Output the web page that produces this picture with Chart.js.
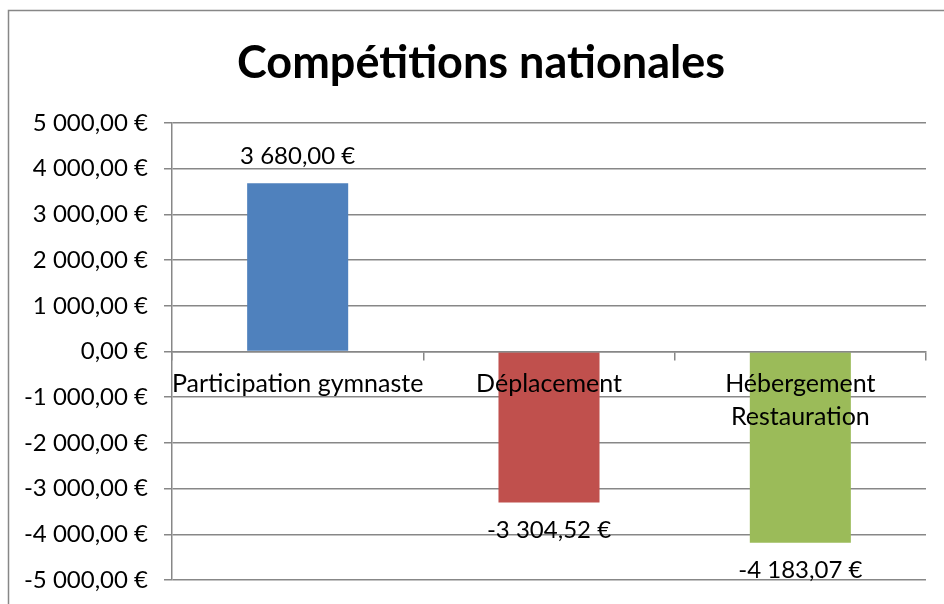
<!DOCTYPE html>
<html>
<head>
<meta charset="utf-8">
<script src="https://cdn.jsdelivr.net/npm/chart.js@4"></script>
<style>
  html, body { margin: 0; padding: 0; background: #fff; }
  #wrap { width: 944px; height: 604px; }
</style>
</head>
<body>
<div id="wrap"><canvas id="myChart" width="944" height="604"></canvas></div>
<script>
var title = "Compétitions nationales"
var categories = ["Participation gymnaste", "Déplacement", ["Hébergement", "Restauration"]]
var values = [3680.00, -3304.52, -4183.07]
var barColors = ["#4F81BD", "#C0504D", "#9BBB59"]
var yMin = -5000
var yMax = 5000
var yStep = 1000

var FONT = "Lato, 'Liberation Sans', sans-serif"
var GRID = "#878787"

// 3 680,00 €
function euro(v) {
  var neg = v < 0
  var s = Math.abs(v).toFixed(2).split(".")
  var int = s[0].replace(/\B(?=(\d{3})+(?!\d))/g, " ")
  return (neg ? "-" : "") + int + "," + s[1] + " €"
}

// etiquettes de valeur au bout des barres
var valueLabels = {
  id: "valueLabels",
  afterDraw: function(chart) {
    var ctx = chart.ctx
    var meta = chart.getDatasetMeta(0)
    ctx.save()
    ctx.font = "24px " + FONT
    ctx.fillStyle = "#000"
    ctx.textAlign = "center"
    ctx.textBaseline = "middle"
    meta.data.forEach(function(bar, i) {
      var v = values[i]
      var y = v >= 0 ? bar.y - 27 : bar.y + 28
      ctx.fillText(euro(v), bar.x, y)
    })
    ctx.restore()
  }
}

// cadre du graphique + titre decale comme dans Excel
var frame = {
  id: "frame",
  afterLayout: function(chart) {
    chart.titleBlock.left += 14
    chart.titleBlock.right += 14
  },
  beforeDraw: function(chart) {
    var ctx = chart.ctx
    ctx.save()
    ctx.fillStyle = "#fff"
    ctx.fillRect(0, 0, chart.width, chart.height)
    ctx.strokeStyle = GRID
    ctx.lineWidth = 1.5
    ctx.strokeRect(8.5, 10.5, chart.width + 20, chart.height + 20)
    ctx.restore()
  }
}

var ctx = document.getElementById("myChart")
var myChart = new Chart(ctx, {
  type: "bar",
  data: {
    labels: categories,
    datasets: [{
      data: values,
      backgroundColor: barColors,
      borderWidth: 0,
      categoryPercentage: 1,
      barPercentage: 0.402
    }]
  },
  options: {
    responsive: false,
    animation: false,
    layout: {
      padding: { top: 14, left: 8, right: 18, bottom: 24 }
    },
    plugins: {
      legend: { display: false },
      tooltip: { enabled: false },
      title: {
        display: true,
        text: title,
        color: "#000",
        font: { family: FONT, size: 45, weight: "bold", lineHeight: 1.2 },
        padding: { top: 22, bottom: 33 }
      }
    },
    scales: {
      x: {
        position: { y: 0 },
        afterFit: function(s) { s.height = 0 },
        grid: {
          display: true,
          drawOnChartArea: false,
          drawTicks: true,
          tickLength: 8,
          color: GRID,
          lineWidth: 1.5,
          z: 1
        },
        border: { display: true, color: GRID, width: 1.5, z: 1 },
        ticks: {
          z: 1,
          autoSkip: false,
          maxRotation: 0,
          minRotation: 0,
          padding: 8,
          color: "#000",
          font: { family: FONT, size: 25, lineHeight: 1.32 }
        }
      },
      y: {
        min: yMin,
        max: yMax,
        afterFit: function(s) {
          s.width = 164
          s.paddingTop = 14
          s.paddingBottom = 14
        },
        grid: {
          color: GRID,
          lineWidth: 1.5,
          tickLength: 8
        },
        border: { display: true, color: GRID, width: 1.5 },
        ticks: {
          stepSize: yStep,
          padding: 16,
          color: "#000",
          font: { family: FONT, size: 24 },
          callback: function(v) { return euro(v) }
        }
      }
    }
  },
  plugins: [frame, valueLabels]
})
</script>
</body>
</html>
